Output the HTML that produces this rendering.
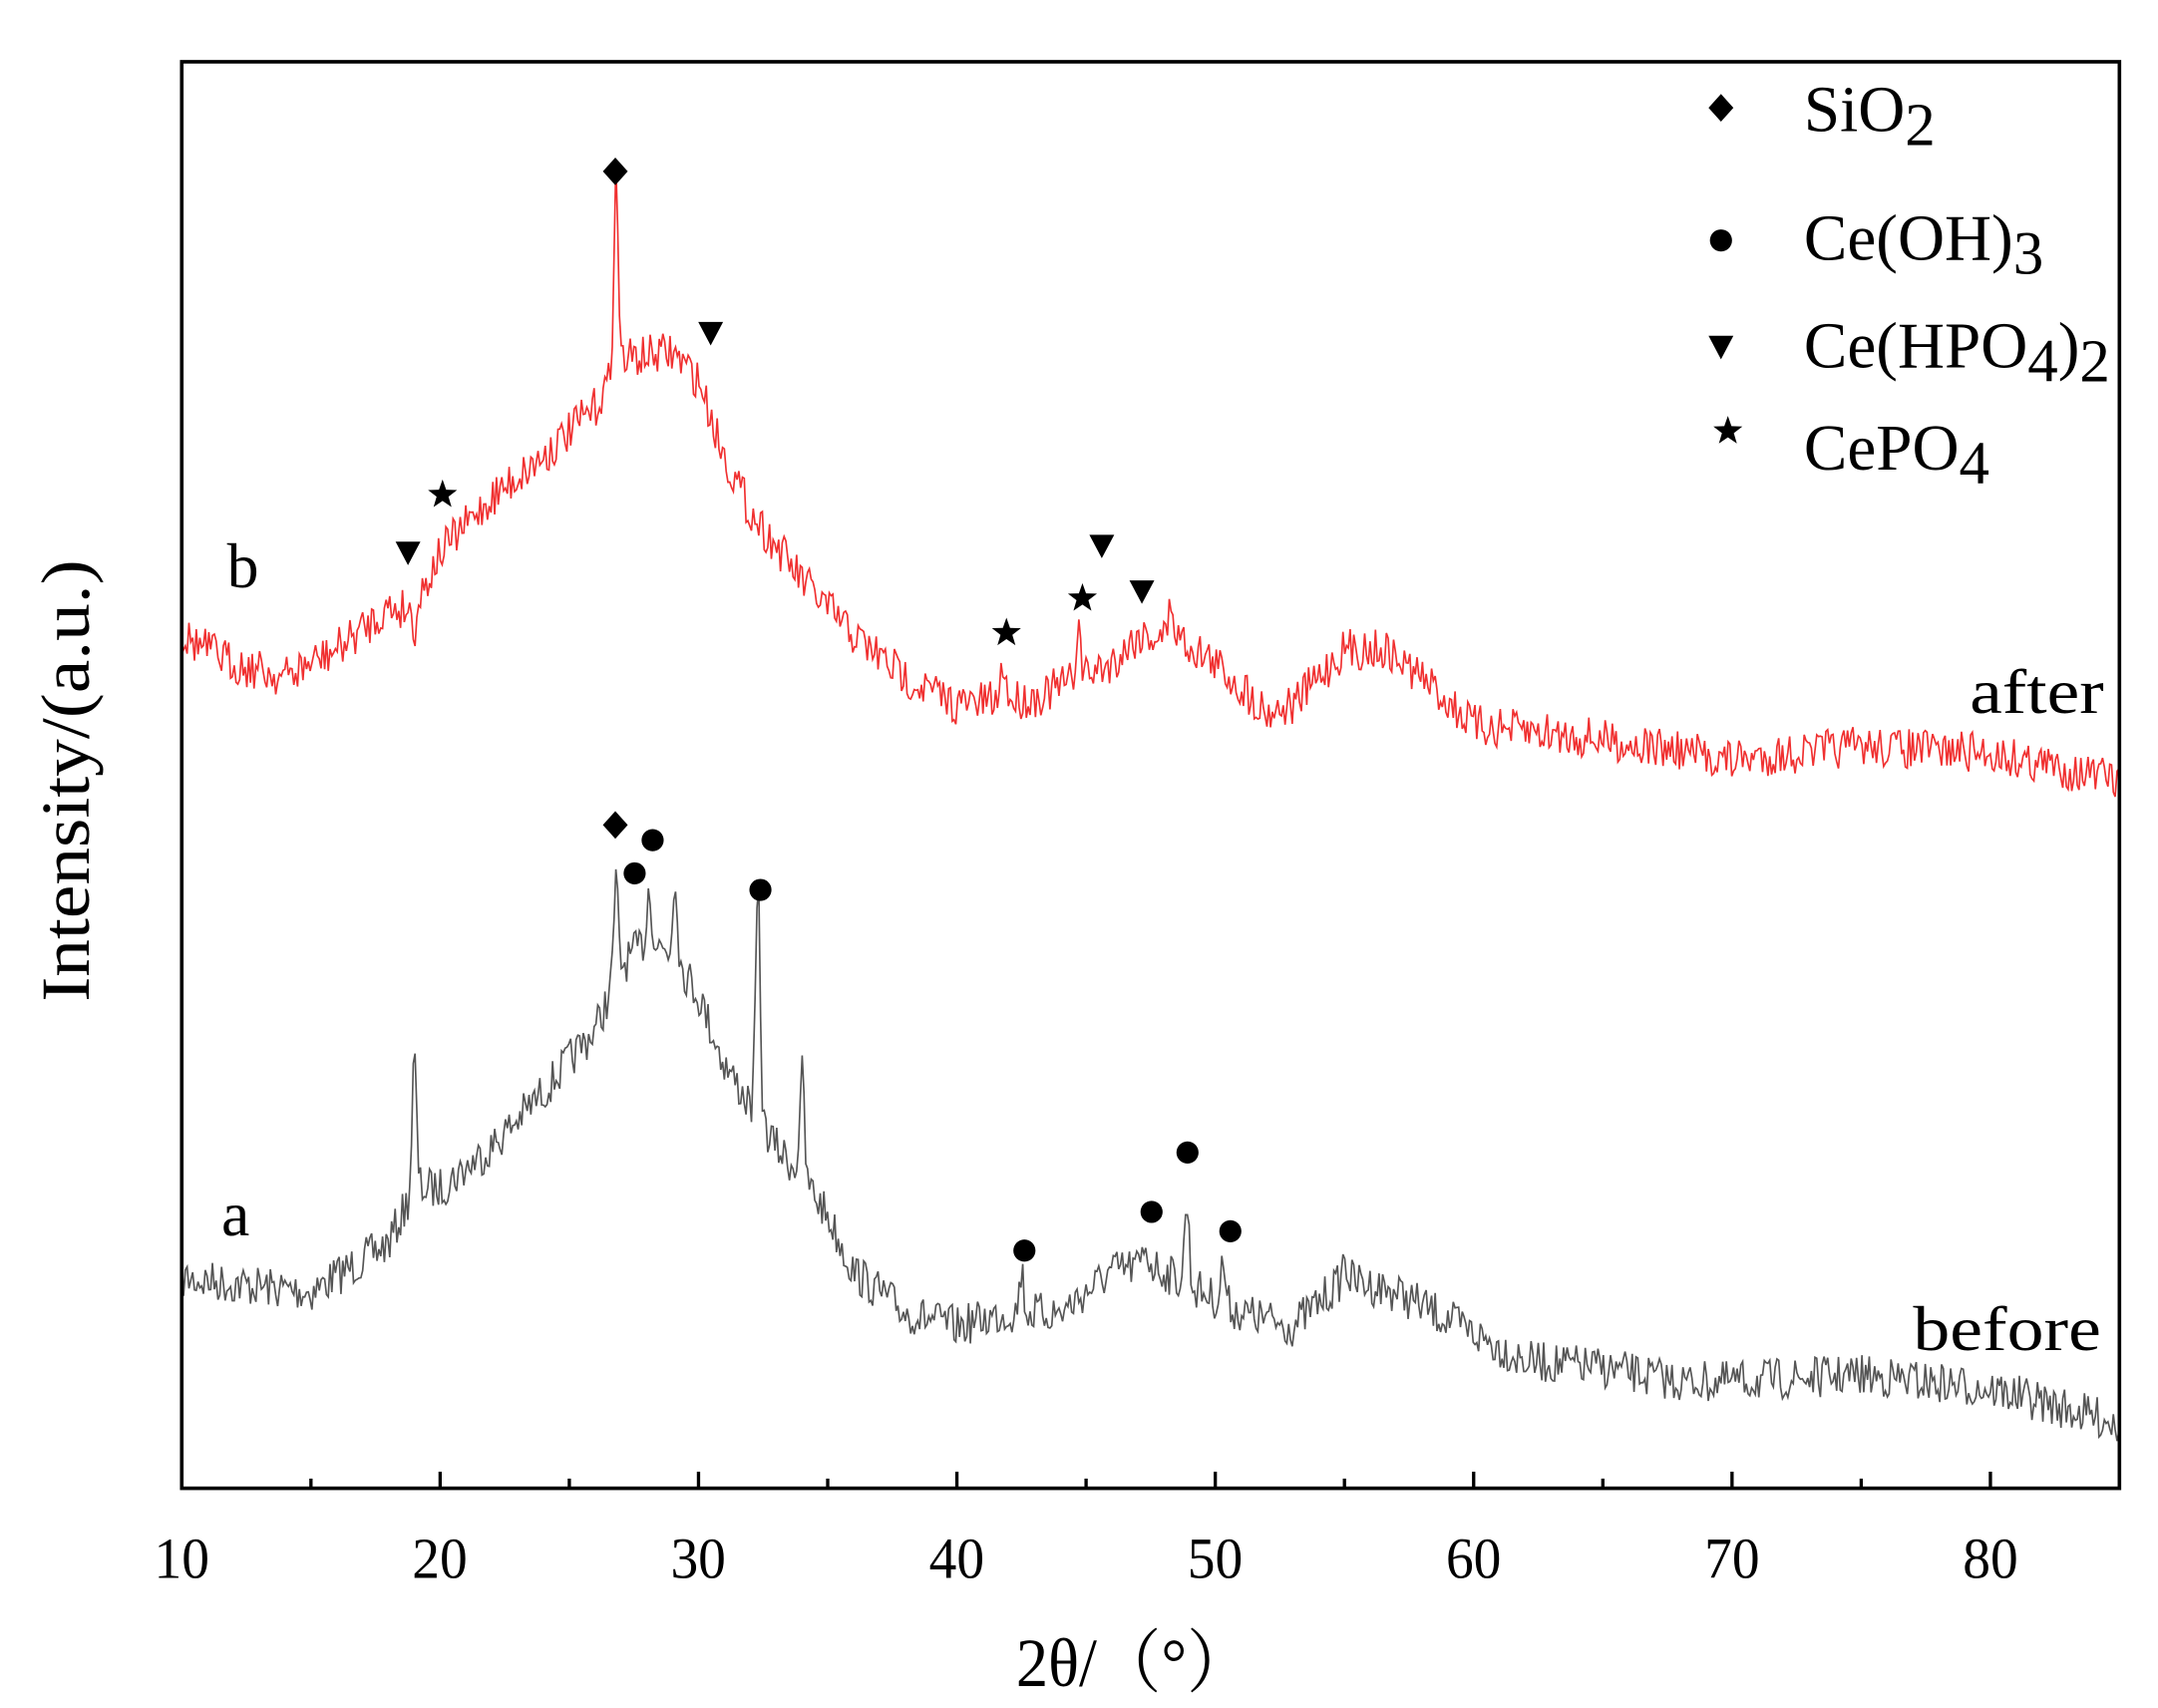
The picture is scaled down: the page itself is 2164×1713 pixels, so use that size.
<!DOCTYPE html>
<html><head><meta charset="utf-8"><style>html,body{margin:0;padding:0;background:#fff}svg{display:block}</style></head>
<body>
<svg id="s" width="2164" height="1713" viewBox="0 0 1561 1236" xmlns="http://www.w3.org/2000/svg" font-family="'Liberation Serif','Noto Serif CJK SC',serif">
<rect width="1561" height="1236" fill="#fff"/>
<g id="curves"></g>
<rect x="131.3" y="44.7" width="1402" height="1032.3" fill="none" stroke="#000" stroke-width="2.6"/>
<g id="ticks" stroke="#000" stroke-width="2.4"></g>
<g font-size="42" text-anchor="middle" fill="#000" lengthAdjust="spacingAndGlyphs">
<text x="131.3" y="1142" textLength="40" lengthAdjust="spacingAndGlyphs">10</text><text x="318" y="1142" textLength="40" lengthAdjust="spacingAndGlyphs">20</text><text x="505" y="1142" textLength="40" lengthAdjust="spacingAndGlyphs">30</text><text x="692" y="1142" textLength="40" lengthAdjust="spacingAndGlyphs">40</text><text x="879" y="1142" textLength="40" lengthAdjust="spacingAndGlyphs">50</text><text x="1066" y="1142" textLength="40" lengthAdjust="spacingAndGlyphs">60</text><text x="1253" y="1142" textLength="40" lengthAdjust="spacingAndGlyphs">70</text><text x="1440" y="1142" textLength="40" lengthAdjust="spacingAndGlyphs">80</text>
</g>
<text x="735" y="1220" font-size="50" textLength="170" lengthAdjust="spacingAndGlyphs">2θ/（°）</text>
<text transform="translate(64,565) rotate(-90)" font-size="50" text-anchor="middle" textLength="320" lengthAdjust="spacingAndGlyphs">Intensity/(a.u.)</text>
<g font-size="46">
<text x="160" y="894">a</text><text x="164" y="425">b</text>
<text x="1425" y="516" textLength="97" lengthAdjust="spacingAndGlyphs">after</text><text x="1384" y="977" textLength="136" lengthAdjust="spacingAndGlyphs">before</text>
</g>
<g font-size="47">
<text x="1305" y="95">SiO<tspan font-size="44" dy="10">2</tspan></text>
<text x="1305" y="188">Ce(OH)<tspan font-size="44" dy="10">3</tspan></text>
<text x="1305" y="266">Ce(HPO<tspan font-size="44" dy="10">4</tspan><tspan dy="-10">)</tspan><tspan font-size="44" dy="10">2</tspan></text>
<text x="1305" y="340">CePO<tspan font-size="44" dy="10">4</tspan></text>
</g>
<g id="marks" fill="#000"></g>
</svg>
<script>
var X=function(v){return 131.3+(v-10)*18.695;};
var ns="http://www.w3.org/2000/svg";
var t=document.getElementById('ticks'),h='';
for(var v=15;v<85;v+=5){var x=X(v),L=(v%10==0)?12:7;h+='<line x1="'+x+'" y1="1077" x2="'+x+'" y2="'+(1077-L)+'"/>';}
t.innerHTML=h;
var seed=7;function r(){seed=(seed*16807)%2147483647;return seed/2147483647-0.5;}
function interp(p,v){for(var i=0;i<p.length-1;i++){if(v>=p[i][0]&&v<=p[i+1][0]){var f=(v-p[i][0])/(p[i+1][0]-p[i][0]);return p[i][1]+f*(p[i+1][1]-p[i][1]);}}return p[p.length-1][1];}
function curve(base,spikes,col,amp){var d='';for(var v=10;v<=85.001;v+=0.07){var y=interp(base,v)+r()*amp*2;for(var k=0;k<spikes.length;k++){var s=spikes[k];var dx=(v-s[0])/0.12;y+=(s[1])*Math.exp(-dx*dx);}if(y>1075)y=1075;d+=(d?'L':'M')+X(v).toFixed(1)+' '+y.toFixed(1);}
var p=document.createElementNS(ns,'path');p.setAttribute('d',d);p.setAttribute('fill','none');p.setAttribute('stroke',col);p.setAttribute('stroke-width','1.2');document.getElementById('curves').appendChild(p);}
curve([[10,925],[15,935],[18,900],[19,860],[20,860],[22,830],[24,790],[26,745],[27,700],[28,680],[29,690],[30,720],[31,770],[32,800],[33,830],[34,850],[35,880],[36,920],[38,950],[40,960],[42,950],[44,950],[46,920],[47.5,915],[49,930],[51,950],[53,960],[55,925],[57,935],[59,955],[62,985],[65,990],[68,1000],[70,1000],[75,995],[80,1005],[85,1030]],
[[19,-95],[26.8,-70],[28.1,-40],[29.1,-60],[32.3,-165],[34,-75],[42.5,-30],[47.3,-15],[48.9,-60],[50.3,-30],[55,-15]],'#555',15);
curve([[10,460],[12,480],[14,490],[16,470],[18,440],[19,440],[20,400],[22,360],[24,330],[26,295],[27,260],[29,255],[30,275],[31,330],[32,370],[34,420],[36,460],[38,490],[40,510],[43,505],[46,480],[47,460],[48.5,460],[50,480],[52,515],[53,510],[55,470],[56.5,470],[58,490],[60,525],[65,535],[70,550],[75,540],[80,545],[85,565]],
[[26.8,-140],[41.8,-30],[44.7,-40],[48.3,-25],[19,15]],'#f03030',15);
var m=document.getElementById('marks'),s='';
function dia(x,y){s+='<polygon points="'+x+','+(y-10)+' '+(x+9)+','+y+' '+x+','+(y+10)+' '+(x-9)+','+y+'"/>';}
function cir(x,y){s+='<circle cx="'+x+'" cy="'+y+'" r="8"/>';}
function tri(x,y){s+='<polygon points="'+(x-9)+','+(y-8)+' '+(x+9)+','+(y-8)+' '+x+','+(y+9)+'"/>';}
function star(x,y){var p='';for(var i=0;i<10;i++){var a=-Math.PI/2+i*Math.PI/5,R=i%2?4.5:11;p+=(x+R*Math.cos(a)).toFixed(1)+','+(y+R*Math.sin(a)).toFixed(1)+' ';}s+='<polygon points="'+p+'"/>';}
dia(445,124);dia(445,597);dia(1245,78);
[[459,632],[472,608],[550,644],[741,905],[833,877],[859,834],[890,891],[1245,174]].forEach(function(a){cir(a[0],a[1]);});
[[295,400],[514,241],[797,395],[826,428],[1245,251]].forEach(function(a){tri(a[0],a[1]);});
[[320,358],[728,458],[783,433],[1250,312]].forEach(function(a){star(a[0],a[1]);});
m.innerHTML=s;
</script>
</body></html>
